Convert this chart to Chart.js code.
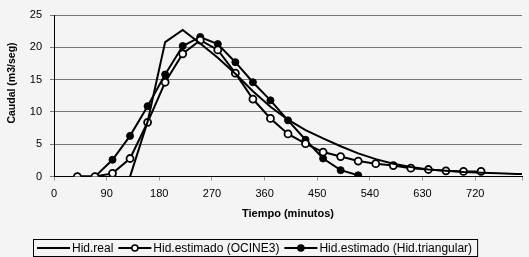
<!DOCTYPE html>
<html>
<head>
<meta charset="utf-8">
<title>Hidrogramas</title>
<script src="https://cdn.jsdelivr.net/npm/chart.js@4.4.0/dist/chart.umd.min.js"></script>
<style>
    html, body { margin: 0; padding: 0; background: #f4f4f4; }
    #chart { display: block; }
</style>
</head>
<body>
<canvas id="chart" width="529" height="257"></canvas>
<script>
// Tiempos (minutos) de las series estimadas
var tiempos = [40, 70, 100, 130, 160, 190, 220, 250, 280, 310, 340, 370,
               400, 430, 460, 490, 520, 550, 580, 610, 640, 670, 700, 730];
// Tiempos del hidrograma real
var tiemposReal = [130, 160, 190, 220, 250, 280, 310, 340, 370, 400, 430, 460,
                   490, 520, 550, 580, 610, 640, 670, 700, 730, 760, 790, 820];

var caudalReal = [0, 8.5, 20.8, 22.7, 20.6, 18.4, 15.9, 13.2, 10.8, 8.8, 7.2, 5.9,
                  4.7, 3.6, 2.7, 2.0, 1.5, 1.1, 0.9, 0.7, 0.6, 0.5, 0.4, 0.4];
var caudalOcine3 = [0, 0, 0.5, 2.8, 8.4, 14.6, 19.0, 21.1, 19.6, 16.0, 12.0, 9.0,
                    6.6, 5.1, 3.8, 3.1, 2.4, 2.0, 1.7, 1.3, 1.1, 0.9, 0.8, 0.8];
var caudalTriangular = [0, 0, 2.6, 6.3, 10.9, 15.8, 20.2, 21.6, 20.5, 17.7, 14.6, 11.8,
                        8.7, 5.7, 2.8, 1.0, 0.2];

var etiquetas = ['Hid.real', 'Hid.estimado (OCINE3)', 'Hid.estimado (Hid.triangular)'];

function puntos(xs, ys) {
    return ys.map(function (v, i) { return {x: xs[i], y: v}; });
}

// Leyenda con recuadro, dibujada en el canvas
var leyendaRecuadro = {
    id: 'leyendaRecuadro',
    afterDraw: function (chart) {
        var ctx = chart.ctx;
        var y = 248;
        var x = 37;
        ctx.save();
        ctx.font = '12px "Liberation Sans", Arial, sans-serif';
        ctx.textBaseline = 'middle';
        ctx.textAlign = 'left';
        chart.data.datasets.forEach(function (ds) {
            ctx.strokeStyle = '#000';
            ctx.lineWidth = 2;
            ctx.beginPath();
            ctx.moveTo(x, y);
            ctx.lineTo(x + 33, y);
            ctx.stroke();
            if (ds.pointRadius > 0) {
                ctx.beginPath();
                ctx.arc(x + 16.5, y, 3, 0, Math.PI * 2);
                ctx.fillStyle = ds.pointBackgroundColor;
                ctx.fill();
                ctx.lineWidth = 1.5;
                ctx.stroke();
            }
            ctx.fillStyle = '#000';
            ctx.fillText(ds.label, x + 35, y + 0.5);
            x += 35 + ctx.measureText(ds.label).width + 5;
        });
        ctx.lineWidth = 1;
        ctx.strokeStyle = '#000';
        ctx.strokeRect(33.5, 239.5, x - 33, 17);

        // Título del eje Y
        ctx.translate(12, 83);
        ctx.rotate(-Math.PI / 2);
        ctx.font = 'bold 10.5px "Liberation Sans", Arial, sans-serif';
        ctx.textAlign = 'center';
        ctx.fillText('Caudal (m3/seg)', 0, 0);
        ctx.restore();
    }
};

new Chart(document.getElementById('chart'), {
    type: 'line',
    data: {
        datasets: [{
            label: etiquetas[0],
            data: puntos(tiemposReal, caudalReal),
            borderColor: '#000',
            borderWidth: 2,
            pointRadius: 0,
            pointBackgroundColor: '#000',
            tension: 0
        }, {
            label: etiquetas[1],
            data: puntos(tiempos, caudalOcine3),
            borderColor: '#000',
            borderWidth: 2,
            pointRadius: 3.5,
            pointBorderWidth: 1.8,
            pointBackgroundColor: '#fff',
            pointBorderColor: '#000',
            tension: 0
        }, {
            label: etiquetas[2],
            data: puntos(tiempos, caudalTriangular),
            borderColor: '#000',
            borderWidth: 2,
            pointRadius: 3.5,
            pointBorderWidth: 1,
            pointBackgroundColor: '#000',
            pointBorderColor: '#000',
            tension: 0
        }]
    },
    options: {
        responsive: false,
        animation: false,
        devicePixelRatio: 1,
        layout: { padding: { top: 15, right: 0, bottom: 36, left: 0 } },
        plugins: {
            legend: { display: false },
            tooltip: { enabled: false }
        },
        scales: {
            x: {
                type: 'linear',
                min: 0,
                max: 800,
                grid: { drawOnChartArea: false, drawTicks: true, tickLength: 4, color: '#999' },
                border: { color: '#000', width: 1 },
                ticks: {
                    stepSize: 90,
                    padding: 7,
                    maxRotation: 0,
                    color: '#000',
                    font: { family: '"Liberation Sans", Arial, sans-serif', size: 11 },
                    callback: function (v) { return v % 90 === 0 ? v : ''; }
                },
                title: {
                    display: true,
                    text: 'Tiempo (minutos)',
                    color: '#000',
                    padding: { top: 0, bottom: 0 },
                    font: { family: '"Liberation Sans", Arial, sans-serif', size: 11, weight: 'bold' }
                }
            },
            y: {
                min: 0,
                max: 25,
                afterFit: function (scale) { scale.width = 54; },
                grid: { color: '#777', lineWidth: 1, drawTicks: true, tickLength: 4 },
                border: { color: '#000', width: 1 },
                ticks: {
                    stepSize: 5,
                    padding: 8,
                    color: '#000',
                    font: { family: '"Liberation Sans", Arial, sans-serif', size: 11 }
                }
            }
        }
    },
    plugins: [leyendaRecuadro]
});
</script>
</body>
</html>
